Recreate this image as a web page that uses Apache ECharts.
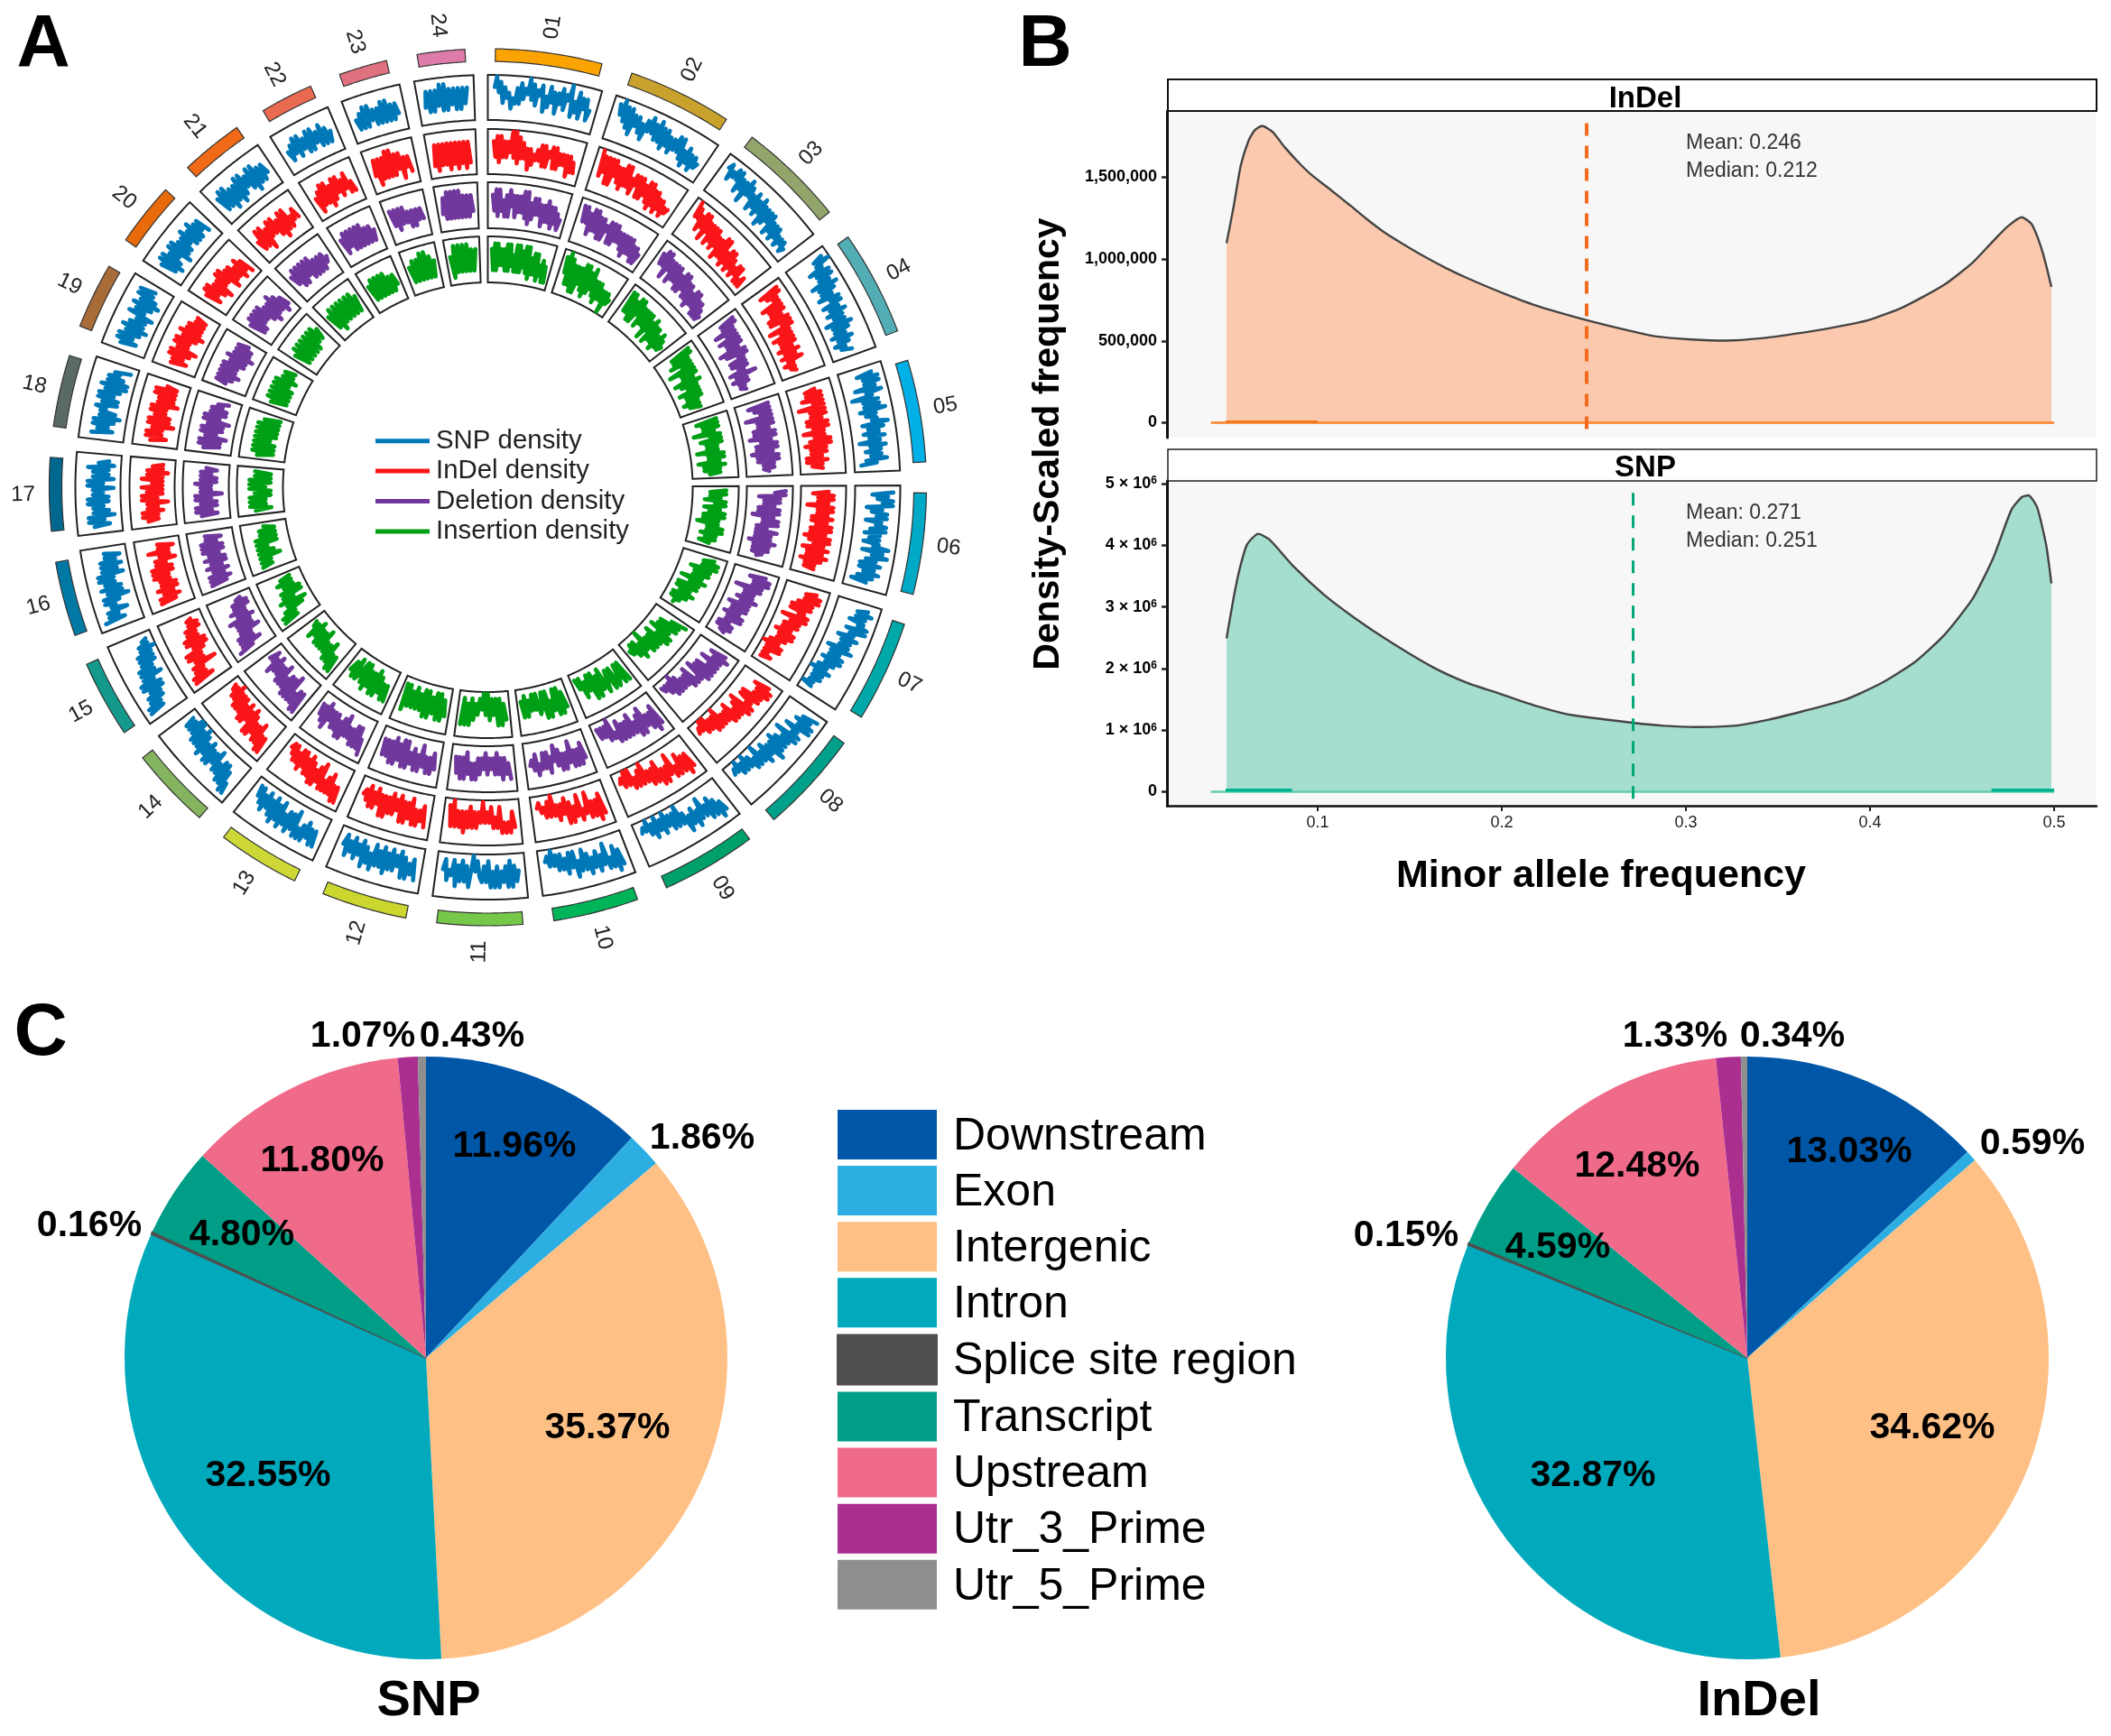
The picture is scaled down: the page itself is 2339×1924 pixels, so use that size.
<!DOCTYPE html>
<html><head><meta charset="utf-8">
<style>html,body{margin:0;padding:0;background:#fff}#c{width:2339px;height:1924px}</style>
<script src="https://cdn.jsdelivr.net/npm/echarts@6/dist/echarts.min.js"></script>
</head><body><div id="c"></div>
<script>
// ---------- Panel A data ----------
const chromNames=['01','02','03','04','05','06','07','08','09','10','11','12','13','14','15','16','17','18','19','20','21','22','23','24'];
const chromSpans=[14.1,13.8,14.1,13.9,13.5,13.4,13.4,13.6,12.6,11.3,11.3,11.3,10.9,10.8,10.2,9.9,9.7,9.5,8.7,8.4,8.3,7,6.4,6.3];
const chromColors=['#FBA300','#C8A22C','#92A56A','#52ADB5','#00B0E6','#00A9C6','#00A9A9','#00A08A','#00A06A','#00B45A','#76C84A','#CBD62F','#CDD838','#84B45F','#139A8C','#0079A5','#00688F','#5A6A66','#A86C38','#E86A0A','#F06A18','#E86A50','#E0727F','#DE7BAA'];
const snpDensity=[
[7,9,6,8,4,7,5,6,3,5,4,7,4,8,5,7,6,9,5,8,4,7,6,8,3,6,4,8,5,7,3,7,5,8,4,7,6,9,3,6,4,8,3,7,5,7,3,5],
[8,6,9,5,8,4,8,3,7,5,7,4,6,3,7,5,8,5,7,4,8,4,7,3,7,4,6,3,6,4,7,4,7,3,5,2,6,3,5,2,5,3,4],
[7,8,5,7,6,8,6,8,4,7,5,7,3,8,5,7,5,6,3,7,4,6,3,7,4,6,2,6,3,6,4,6,2,5,3,5,2,5,3,4,2,4,3,4,2,3],
[8,6,9,6,7,4,8,5,8,5,7,3,8,4,7,4,6,3,7,5,7,3,6,4,7,3,6,4,6,2,7,3,6,3,5,2,6,3,5,2,4,3,5],
[7,4,8,5,8,5,7,3,8,5,6,2,7,4,7,4,8,3,6,4,6,5,8,3,7,4,6,3,7,4,6,2,7,4,6,3,6,4,7,3,5,2],
[8,4,7,5,8,6,8,3,6,4,7,5,7,3,6,5,7,4,7,3,6,4,6,3,6,5,8,3,7,5,8,4,6,3,7,3,6,4,7,3,6,2,5],
[7,5,8,5,7,4,7,6,8,4,8,5,6,3,7,4,6,4,6,2,7,3,5,3,6,2,6,3,5,2,4,1,5,2,4,2,4,2,3,1,3],
[8,5,7,4,8,5,8,3,6,5,7,2,7,4,6,3,6,2,6,3,7,3,5,2,6,3,5,1,5,3,5,2,4,1,4,2,4,1,3,2,3],
[7,5,8,4,7,3,7,4,6,2,6,4,7,3,6,4,7,3,5,1,5,2,5,2,4,1,5,2,4,1,5,2,4,1,3,2,3],
[7,4,8,3,7,5,7,2,6,4,7,3,6,4,7,3,6,2,6,4,7,2,5,2,6,3,5,2,5,2,4,1,4,2,3],
[4,6,3,7,2,7,3,6,4,7,3,7,4,7,2,6,3,6,5,2,4,1,4,7,3,6,2,6,3,7,2,5,4,6,2,4],
[7,3,6,4,7,3,7,2,5,3,6,2,6,3,7,2,6,3,6,2,7,4,6,3,7,2,5,3,6,2,5,3,6,2,4],
[7,4,7,4,6,3,7,4,7,5,7,2,6,3,7,3,6,4,7,2,6,3,7,2,6,3,5,2,6,3,5,2,4,2],
[8,6,8,4,7,3,7,3,6,4,6,2,5,3,6,3,6,2,5,3,6,2,5,1,5,2,5,1,4,1,4,2,4,2],
[8,5,8,5,7,4,7,4,6,3,7,3,7,4,6,2,6,3,6,3,5,2,5,2,5,2,4,1,4,2,3,2],
[8,4,7,5,7,3,6,5,7,4,7,2,6,3,7,3,6,4,7,4,7,2,6,3,6,2,6,3,5,2,5],
[6,3,7,4,7,2,6,3,6,4,7,3,7,3,6,4,6,2,7,4,7,2,6,3,6,3,7,2,5,3],
[7,3,6,4,7,3,7,2,6,3,6,5,7,3,6,3,7,4,7,3,6,2,7,2,6,3,6,4,5,2],
[6,3,7,4,7,3,6,2,7,3,6,3,5,2,7,4,6,3,7,2,6,3,7,4,7,4],
[6,3,7,2,7,3,6,4,7,2,7,3,6,3,6,4,7,3,6,3,7,3,6,4,6,3],
[6,3,7,3,7,2,6,3,6,2,7,3,7,4,6,3,7,2,7,3,6,3,6,4],
[5,3,6,4,7,3,7,4,6,3,7,3,7,4,6,3,7,3,6,3,5],
[5,3,6,3,7,3,7,4,6,3,6,3,7,3,7,3,6,3,6,4],
[4,7,3,7,3,7,4,8,3,8,3,7,4,7,3,7,3,7,4,7]];
const indelDensity=[
[7,4,8,3,8,4,7,4,7,5,9,4,9,3,8,4,7,4,6,2,6,3,5,4,6,4,7,3,7,3,6,5,7,3,7,3,6,4,6,4,6,2,6,3,5,3],
[9,4,8,5,8,3,8,3,8,5,7,4,7,3,8,4,8,4,6,3,7,5,7,3,7,3,6,4,7,3,7,2,6,3,6,2,5,3,5,2,4,3,4],
[9,6,8,6,7,4,8,5,8,3,7,5,7,3,7,4,7,3,6,4,6,2,7,3,7,3,5,2,6,3,6,2,5,3,4,2,5,3,5,2,3,2,4,2],
[8,4,8,5,7,6,7,3,7,4,7,4,6,3,7,3,7,5,7,2,6,4,6,2,6,3,6,3,5,2,6,3,5,2,6,3,4,2,4,3,4],
[6,4,7,4,7,3,7,5,7,2,7,4,7,4,6,3,7,3,7,4,6,2,6,4,7,3,7,2,6,3,6,3,5,2,6,2,5,3,5],
[6,3,7,4,7,4,6,2,7,4,7,4,6,3,7,3,6,4,7,3,7,3,6,2,7,3,7,4,6,2,7,3,6,3,7,2,6,3,5,3,5],
[7,5,8,5,8,4,7,3,7,3,6,5,7,2,7,4,6,3,6,3,5,2,6,3,6,3,5,2,4,1,5,2,5,2,3,2,4,2],
[7,4,8,5,8,5,7,3,7,3,6,5,7,2,7,3,6,4,6,2,6,3,5,3,5,1,5,2,5,2,4,1,4,1,3,2,3],
[7,4,8,4,7,3,7,5,7,2,6,4,7,4,7,2,6,3,6,3,5,1,5,2,5,3,5,1,4,1,4,2,3],
[7,3,8,4,7,4,7,2,6,5,7,2,6,4,7,3,7,2,5,3,6,3,5,1,5,2,5,3,4,2,3],
[6,3,7,5,7,5,7,2,6,4,6,2,5,3,5,1,5,3,6,3,6,2,6,3,7,3,6,3,6,1,6,2],
[7,3,6,4,7,4,7,2,6,3,7,3,7,2,5,3,6,2,6,3,7,3,7,3,5,2,6,3,6,2,5,3,4],
[8,5,8,5,7,3,7,4,7,5,7,2,6,3,7,4,7,3,6,2,6,3,5,2,6,2,5,3,5,2,4,2,3],
[8,5,8,5,7,3,7,4,6,4,7,3,7,2,5,3,6,2,6,3,5,2,5,2,5,2,4,1,4,2,3,2],
[8,4,8,5,7,5,7,2,6,4,7,4,7,3,5,2,6,2,6,3,5,3,5,2,4,2,4,3],
[7,4,7,3,6,4,7,3,6,3,6,4,7,4,7,3,7,3,6,4,6,2,5,3,7,3,5,2,5],
[6,4,7,4,7,3,6,4,6,2,7,4,7,3,6,3,7,3,5,3,7,3,6,2,6,3,5,3],
[6,3,7,4,7,4,6,2,7,3,7,3,6,4,7,4,7,2,6,3,6,3,7,3,7,3,5],
[6,3,6,4,7,3,7,2,6,4,7,4,7,3,6,2,7,3,6,3,6,3,5,3,5],
[6,3,7,4,7,3,6,2,6,4,7,4,7,2,6,3,6,3,5,2,6,3,5,2],
[5,3,7,3,7,2,6,4,7,4,7,3,6,2,7,3,7,3,5,4,6,4],
[5,2,6,3,7,3,7,2,6,3,7,4,7,3,6,4,7,3,5,3],
[4,7,2,7,3,7,3,8,3,8,3,7,4,7,2,6,4,6,3],
[3,7,2,7,3,7,3,7,2,7,3,7,2,7,3,7,2,7,3]];
const deletionDensity=[
[7,4,8,3,8,4,6,3,7,3,8,5,7,3,7,4,7,4,8,3,8,2,6,3,7,4,7,4,6,2,6,3,7,3,6,2,6,3,5,2,4],
[8,5,8,5,7,3,8,4,8,4,7,3,7,3,6,5,7,3,7,3,7,4,6,4,6,3,6,2,6,3,6,3,5,2,5,2,4],
[7,5,8,5,8,3,7,5,7,3,7,4,7,4,6,3,7,3,7,4,6,3,6,3,5,2,6,3,6,3,5,2,5,2,4,2,3],
[8,5,8,5,7,3,7,5,7,3,7,4,7,4,6,2,7,3,7,5,6,3,6,3,6,4,5,2,7,3,5,2,5,3,4,3,4],
[7,3,7,4,7,5,7,2,7,4,7,4,6,3,7,3,7,2,6,4,7,3,7,3,6,2,7,3,7,3,6,4,6,4,5],
[8,6,8,3,7,4,7,4,6,3,7,3,7,2,6,4,7,4,7,3,5,3,7,3,6,3,6,2,7,3,6,3,6,3,5,4],
[7,4,8,5,8,5,7,2,7,4,6,4,6,3,7,4,6,2,6,3,6,3,5,2,6,3,6,3,4,2,5,2,5,3,4],
[7,4,8,5,7,3,7,5,7,3,7,3,7,2,6,5,6,2,6,3,5,3,5,2,5,1,5,2,4,2,3,2],
[7,3,8,4,7,4,6,2,7,3,7,4,6,2,6,3,6,3,6,2,6,4,5,1,5,2,4,2,4,2],
[6,3,7,4,7,4,7,2,6,4,7,4,7,3,6,2,5,4,7,3,6,3,6,5,7,3,6,4,5],
[7,4,6,3,7,3,6,2,6,3,5,3,6,2,5,3,6,3,7,4,7,4,6,2,7,3,7,3,6,3],
[6,3,7,4,7,4,6,2,7,4,7,3,6,4,7,2,7,2,6,3,7,2,7,3,6,3,6,3],
[8,5,7,3,7,3,7,4,6,4,6,2,7,3,7,4,6,3,6,3,5,3,7,2,6,3,5,3],
[8,4,8,4,7,5,7,2,7,3,7,3,6,4,6,2,6,3,5,3,5,2,6,3,4,2,4],
[8,5,7,3,7,4,7,4,6,2,6,3,6,3,7,2,5,3,6,3,5,2,5,2,4,3],
[7,4,7,3,7,4,6,3,7,4,6,3,7,3,6,4,7,3,7,3,7,4,6,3,6],
[6,3,7,4,7,3,6,3,7,4,7,2,6,4,6,4,7,3,6,3,6,4,6,3,5],
[6,3,7,3,7,2,6,4,7,3,7,3,6,2,7,4,7,3,6,3,6,4,5,3],
[5,7,4,7,3,7,4,7,4,7,3,6,3,7,2,6,3,6,3,6,4],
[6,3,7,3,7,4,7,4,7,3,6,2,6,3,7,3,6,2,5,3],
[6,4,7,3,7,3,7,4,7,3,7,3,6,3,6,3,6,4,5],
[6,3,7,4,7,3,7,3,7,3,7,3,6,3,6,3,5],
[7,4,7,3,7,4,7,4,6,3,6,3,6,4,6,4],
[4,7,3,8,3,8,3,8,3,8,3,7,3,7,3,7,4]];
const insertionDensity=[
[7,3,8,3,8,4,7,4,7,3,8,3,8,4,6,3,8,3,8,3,7,4,8,3,8,2,6,3,7,3,7,2,5,3,6,2,5,2],
[8,5,9,3,8,3,7,2,7,2,7,4,8,3,8,2,7,3,8,4,6,3,6,2,6,3,5,3,5,1,5,3,4],
[8,4,8,4,7,3,8,3,8,5,7,3,7,4,7,4,7,2,6,4,7,2,6,3,6,3,5,2,6,3,5,3,4],
[8,4,8,4,7,3,7,5,7,2,7,4,7,4,6,2,7,3,6,4,6,2,6,3,6,3,5,2,5,3,5],
[7,3,7,4,7,4,6,2,7,5,7,3,7,4,6,4,6,2,7,4,7,4,6,2,7,3,6,3,6,4],
[7,4,7,4,6,3,7,5,7,3,6,4,7,3,7,3,6,2,6,4,7,4,7,3,6,4,6,3,5],
[7,5,8,5,8,3,7,4,7,4,6,2,7,4,6,2,6,2,5,3,6,2,5,2,4,3,3],
[8,5,7,3,7,3,6,2,7,4,7,2,6,3,6,3,6,1,5,3,6,2,5,2,4,3],
[7,3,7,3,6,7,3,7,3,5,7,2,6,3,7,2,7,2,5,3,6,2,4,2],
[6,3,7,2,7,2,6,4,7,2,7,2,5,6,2,5,2,5,3,6,2,6,3],
[6,3,7,2,7,2,5,2,6,1,5,1,4,2,5,3,6,2,7,3,7,2,7],
[6,3,7,2,7,2,6,3,7,2,7,2,6,3,6,2,6,3,6,2,7,2],
[7,4,7,4,6,3,7,2,7,3,6,3,7,2,6,2,5,6,2,6,3,5],
[8,5,8,5,7,3,7,4,6,4,6,2,6,3,6,3,5,2,6,3,4,3],
[8,5,8,5,7,3,6,2,7,4,6,2,6,2,5,3,6,3,5,3],
[7,5,7,5,7,3,7,4,7,5,7,3,7,3,6,3,6,3,5],
[6,3,7,4,7,4,7,3,6,3,7,4,7,3,7,3,6,3,6],
[6,3,7,3,7,3,7,4,7,3,7,3,7,3,7,3,6,3],
[6,3,7,3,7,3,7,3,7,4,7,3,6,4,6,4],
[6,3,7,3,7,3,7,3,7,3,7,4,7,4,6],
[6,3,7,2,7,3,7,3,7,3,7,3,7,3,6],
[6,3,7,3,7,3,7,3,7,3,6,3,6,4],
[6,3,7,3,7,3,8,3,8,3,7,3,6],
[6,2,8,3,8,3,8,3,8,3,7,3,7]];
const densityNames=['SNP density','InDel density','Deletion density','Insertion density'];
const densityColors=['#0078B8','#FA1519','#70389C','#00A016'];

// ---------- Panel B data ----------
const indelMafX=[.0505,.0543,.0583,.0624,.0657,.0698,.0755,.082,.0902,.0967,.1065,.118,.126,.136,.1474,.1588,.1697,.181,.2,.219,.2467,.269,.284,.303,.322,.341,.36,.379,.3985,.4175,.44,.4557,.467,.4748,.4824,.488,.4938,.4985];
const indelFreq=[1097000,1318000,1575000,1722000,1786000,1814000,1777000,1685000,1584000,1514000,1428000,1325000,1250000,1165000,1085000,1010000,945000,885000,795000,715000,625000,563000,527000,509000,502000,516000,545000,580000,625000,704000,841000,978000,1112000,1200000,1256000,1210000,1040000,830000];
const snpMafX=[.0505,.0543,.0575,.0616,.0677,.0739,.0871,.1033,.1196,.139,.162,.181,.2,.219,.238,.271,.288,.305,.326,.345,.364,.387,.406,.425,.4405,.4557,.467,.4767,.4824,.486,.4907,.4957,.4985];
const snpFreq=[2490000,3140000,3600000,4010000,4185000,4090000,3650000,3200000,2830000,2440000,2030000,1770000,1580000,1390000,1245000,1120000,1070000,1050000,1070000,1170000,1310000,1500000,1760000,2120000,2550000,3130000,3800000,4570000,4780000,4810000,4620000,4000000,3380000];
const indelTicks=[0,500000,1000000,1500000];
const indelTickLabels=['0','500,000','1,000,000','1,500,000'];
const snpTicks=[0,1000000,2000000,3000000,4000000,5000000];
const snpTickLabels=['0','1 × 10{s|6}','2 × 10{s|6}','3 × 10{s|6}','4 × 10{s|6}','5 × 10{s|6}'];
const mafTicks=[.1,.2,.3,.4,.5];
const indelMean=.246, snpMean=.271;
const indelNotes=['Mean: 0.246','Median: 0.212'];
const snpNotes=['Mean: 0.271','Median: 0.251'];

// ---------- Panel C data ----------
const effectNames=['Downstream','Exon','Intergenic','Intron','Splice site region','Transcript','Upstream','Utr_3_Prime','Utr_5_Prime'];
const effectColors=['#0057A8','#2DAEE2','#FFC085','#00A9BC','#4F4F4F','#009E86','#F06A8A','#AA2F8F','#8E8E8E'];
const snpEffects=[11.96,1.86,35.37,32.55,.16,4.80,11.80,1.07,.43];
const indelEffects=[13.03,.59,34.62,32.87,.15,4.59,12.48,1.33,.34];

// ---------- layout constants ----------
const FONT='"Liberation Sans"';
const circ={cx:540.5,cy:540,R:490};
const trackRings=[[407,457],[347,397],[287,338],[227,278]];
const arcRing=[472,486], labelR=515, firstStart=1, gap=4.07, boxPad=1;
const snpLabelAt=[[570,1271],[778,1262],[673,1583],[297,1636],[99,1359],[268,1369],[357,1287],[402,1149],[523,1149]];
const indelLabelAt=[[2049,1277],[2252,1268],[2141,1583],[1765,1636],[1558,1370],[1726,1383],[1814,1293],[1856,1149],[1986,1149]];
const gridB1={left:1293,top:123,width:1030,height:362};
const gridB2={left:1293,top:533,width:1030,height:360};
const xMin=.01814,xMax=.52304;

// chromosome angular extents
const starts=[];let acc=firstStart;
chromSpans.forEach(s=>{starts.push(acc);acc+=s+gap;});

// density tracks -> polar line series
const trackSets=[snpDensity,indelDensity,deletionDensity,insertionDensity];
const lineSeries=trackSets.map((set,t)=>{
  const [rIn,rOut]=trackRings[t],h=rOut-rIn,d=[];
  set.forEach((vals,c)=>{
    vals.forEach((v,i)=>{
      d.push([rIn+(.5+(v-5)*.116)*h, starts[c]+chromSpans[c]*i/(vals.length-1)]);
    });
    d.push(['-','-']);
  });
  return {type:'line',name:densityNames[t],coordinateSystem:'polar',polarIndex:0,data:d,symbol:'none',showSymbol:false,connectNulls:false,smooth:false,
    lineStyle:{color:densityColors[t],width:4.6,join:'round',cap:'round'},itemStyle:{color:densityColors[t]},silent:true,z:3,animation:false};
});

function ringPoly(api,a0,a1,r0,r1){
  const n=24,pts=[];
  for(let i=0;i<=n;i++)pts.push(api.coord([r1,a0+(a1-a0)*i/n]).slice(0,2));
  for(let i=n;i>=0;i--)pts.push(api.coord([r0,a0+(a1-a0)*i/n]).slice(0,2));
  return pts;
}
const boxData=[],arcData=[],nameData=[];
chromNames.forEach((n,c)=>{
  const a0=starts[c],a1=a0+chromSpans[c];
  trackRings.forEach(r=>boxData.push([a0-boxPad,a1+boxPad,r[0],r[1]]));
  arcData.push([a0,a1,arcRing[0],arcRing[1],c]);
  nameData.push([labelR,(a0+a1)/2,c]);
});
const boxSeries={type:'custom',coordinateSystem:'polar',polarIndex:0,data:boxData,silent:true,z:2,animation:false,clip:false,encode:{radius:3,angle:1},
  renderItem:(p,api)=>({type:'polygon',shape:{points:ringPoly(api,api.value(0),api.value(1),api.value(2),api.value(3))},style:{fill:'#fff',stroke:'#222',lineWidth:2}})};
const arcSeries={type:'custom',coordinateSystem:'polar',polarIndex:0,data:arcData,silent:true,z:2,animation:false,clip:false,encode:{radius:3,angle:1},
  renderItem:(p,api)=>({type:'polygon',shape:{points:ringPoly(api,api.value(0),api.value(1),api.value(2),api.value(3))},style:{fill:chromColors[api.value(4)],stroke:'#333',lineWidth:1.2}})};
const nameSeries={type:'custom',coordinateSystem:'polar',polarIndex:0,data:nameData,silent:true,z:4,animation:false,clip:false,encode:{radius:0,angle:1},
  renderItem:(p,api)=>{
    const a=api.value(1),q=api.coord([api.value(0),a]);
    const rot=(a<180?90-a:270-a)*Math.PI/180;
    return {type:'text',x:q[0],y:q[1],rotation:rot,style:{text:chromNames[api.value(2)],font:'24px '+FONT,fill:'#222',align:'center',verticalAlign:'middle'}};
  }};

function txt(text,x,y,font,extra){
  return Object.assign({type:'text',x:x,y:y,z:10,silent:true,style:{text:text,font:font+' '+FONT,fill:'#000',align:'center',verticalAlign:'middle'}},extra||{});
}
const graphics=[
  txt('A',48,50,'bold 82px'),txt('B',1158,50,'bold 82px'),txt('C',45,1146,'bold 82px'),
  {type:'rect',z:5,silent:true,shape:{x:1294,y:88,width:1029,height:35},style:{fill:'#fff',stroke:'#111',lineWidth:2}},
  {type:'rect',z:5,silent:true,shape:{x:1294,y:498,width:1029,height:35},style:{fill:'#fff',stroke:'#222',lineWidth:1.5}},
  txt('InDel',1823,110,'bold 33px'),txt('SNP',1823,519,'bold 33px'),
  txt('Density-Scaled frequency',1162,492,'bold 41px',{rotation:Math.PI/2}),
  txt('Minor allele frequency',1774,971,'bold 43px'),
  txt('SNP',475,1886,'bold 56px'),txt('InDel',1949,1886,'bold 56px')
];
[[indelNotes,158.5],[indelNotes,189.5],[snpNotes,568.5],[snpNotes,599.5]].forEach((n,i)=>{
  graphics.push({type:'text',x:1868,y:n[1],z:10,silent:true,style:{text:n[0][i%2],font:'23px '+FONT,fill:'#333',align:'left',verticalAlign:'middle'}});
});

function pie(values,center,labelAt,name){
  return {type:'pie',name:name,center:center,radius:[0,334],startAngle:90,clockwise:true,avoidLabelOverlap:false,animation:false,silent:true,minShowLabelAngle:0,
    data:values.map((v,i)=>({name:effectNames[i],value:v,itemStyle:effectNames[i]==='Splice site region'?{color:effectColors[i],borderColor:effectColors[i],borderWidth:1.5}:{color:effectColors[i]}})),
    label:{show:true,position:'outside',formatter:p=>p.value.toFixed(2)+'%',fontFamily:FONT,fontWeight:'bold',fontSize:41,color:'#000'},
    labelLine:{show:false},
    labelLayout:p=>{const q=labelAt[p.dataIndex];return {x:q[0],y:q[1],align:'center',verticalAlign:'middle'};}};
}
const mk=(xv,yv)=>xv.map((x,i)=>[x,yv[i]]);
function ridge(xAxisIndex,xv,yv,fill){
  return {type:'line',xAxisIndex:xAxisIndex,yAxisIndex:xAxisIndex,data:mk(xv,yv),symbol:'none',smooth:.2,lineStyle:{color:'#444',width:2.4},areaStyle:{color:fill,opacity:1,origin:0},animation:false,silent:true,z:2};
}
function base(xAxisIndex,pts,color,w){
  return {type:'line',xAxisIndex:xAxisIndex,yAxisIndex:xAxisIndex,data:pts,symbol:'none',lineStyle:{color:color,width:w},animation:false,silent:true,z:3};
}
function meanLine(xAxisIndex,x,y0,y1,color,w){
  return {type:'line',xAxisIndex:xAxisIndex,yAxisIndex:xAxisIndex,data:[],animation:false,silent:true,z:4,
    markLine:{silent:true,symbol:'none',animation:false,label:{show:false},lineStyle:{color:color,width:w,type:[14,11]},data:[[{coord:[x,y0]},{coord:[x,y1]}]]}};
}
const axisCommon={min:xMin,max:xMax,type:'value',splitLine:{show:false}};
const indelMin=-91000,indelMax=1905000,snpMin=-227000,snpMax=5044000;
const chart=echarts.init(document.getElementById('c'),null,{renderer:'canvas',width:2339,height:1924});
chart.setOption({
  backgroundColor:'#fff',animation:false,
  polar:[{center:[circ.cx,circ.cy],radius:[0,circ.R]}],
  angleAxis:[{polarIndex:0,type:'value',min:0,max:360,startAngle:90,show:false}],
  radiusAxis:[{polarIndex:0,type:'value',min:0,max:circ.R,show:false}],
  grid:[Object.assign({show:true,backgroundColor:'#F7F7F7',borderWidth:0},gridB1),Object.assign({show:true,backgroundColor:'#F7F7F7',borderWidth:0},gridB2)],
  xAxis:[
    Object.assign({gridIndex:0,show:false},axisCommon),
    Object.assign({gridIndex:1,axisLine:{show:true,onZero:false,lineStyle:{color:'#111',width:2.5}},
      axisTick:{show:true,length:6,customValues:mafTicks,lineStyle:{color:'#222',width:2}},
      axisLabel:{show:true,customValues:mafTicks,margin:10,formatter:v=>v.toFixed(1),fontFamily:FONT,fontSize:18,color:'#222'}},axisCommon)
  ],
  yAxis:[
    {gridIndex:0,type:'value',min:indelMin,max:indelMax,splitLine:{show:false},axisLine:{show:true,onZero:false,lineStyle:{color:'#111',width:3}},
     axisTick:{show:true,length:6,customValues:indelTicks,lineStyle:{color:'#222',width:2.5}},
     axisLabel:{show:true,customValues:indelTicks,margin:11,formatter:v=>indelTickLabels[indelTicks.indexOf(v)],fontFamily:FONT,fontWeight:'bold',fontSize:18,color:'#000'}},
    {gridIndex:1,type:'value',min:snpMin,max:snpMax,splitLine:{show:false},axisLine:{show:true,onZero:false,lineStyle:{color:'#111',width:3}},
     axisTick:{show:true,length:6,customValues:snpTicks,lineStyle:{color:'#222',width:2.5}},
     axisLabel:{show:true,customValues:snpTicks,margin:11,formatter:v=>snpTickLabels[snpTicks.indexOf(v)],fontFamily:FONT,fontWeight:'bold',fontSize:18,color:'#000',
       rich:{s:{fontFamily:FONT,fontWeight:'bold',fontSize:12,verticalAlign:'top',padding:[0,0,6,0],color:'#000'}}}}
  ],
  legend:[
    {orient:'vertical',left:411,top:467,data:densityNames,icon:'rect',itemWidth:60,itemHeight:5,itemGap:0,selectedMode:false,textStyle:{fontFamily:FONT,fontSize:29.4,color:'#222',height:33.4,lineHeight:33.4,padding:[0,0,0,2]}},
    {orient:'vertical',left:922,top:1225,data:effectNames,icon:'rect',itemWidth:110,itemHeight:55,itemGap:7.1,selectedMode:false,formatter:'{t|{name}}',
     textStyle:{fontFamily:FONT,fontSize:50,color:'#000',rich:{t:{fontFamily:FONT,fontSize:50,color:'#000',height:50,lineHeight:50,padding:[5,0,0,13]}}}}
  ],
  graphic:{elements:graphics},
  series:[
    boxSeries,arcSeries,nameSeries,...lineSeries,
    ridge(0,indelMafX,indelFreq,'#FBC9AD'),
    base(0,[[.042,0],[.5,0]],'#FF8228',2.5),
    base(0,[[.05,5000],[.1,5000]],'#F47A20',3),
    meanLine(0,indelMean,1830000,indelMin,'#F26A1D',4),
    ridge(1,snpMafX,snpFreq,'#A5DDCF'),
    base(1,[[.042,0],[.5,0]],'#62CDB3',2.5),
    base(1,[[.05,25000],[.086,25000]],'#00B38C',3.5),
    base(1,[[.466,25000],[.5,25000]],'#00B38C',3.5),
    meanLine(1,snpMean,4850000,snpMin,'#00A878',3),
    pie(snpEffects,[472,1505],snpLabelAt,'SNP'),
    pie(indelEffects,[1936,1505],indelLabelAt,'InDel')
  ]
});
</script></body></html>
